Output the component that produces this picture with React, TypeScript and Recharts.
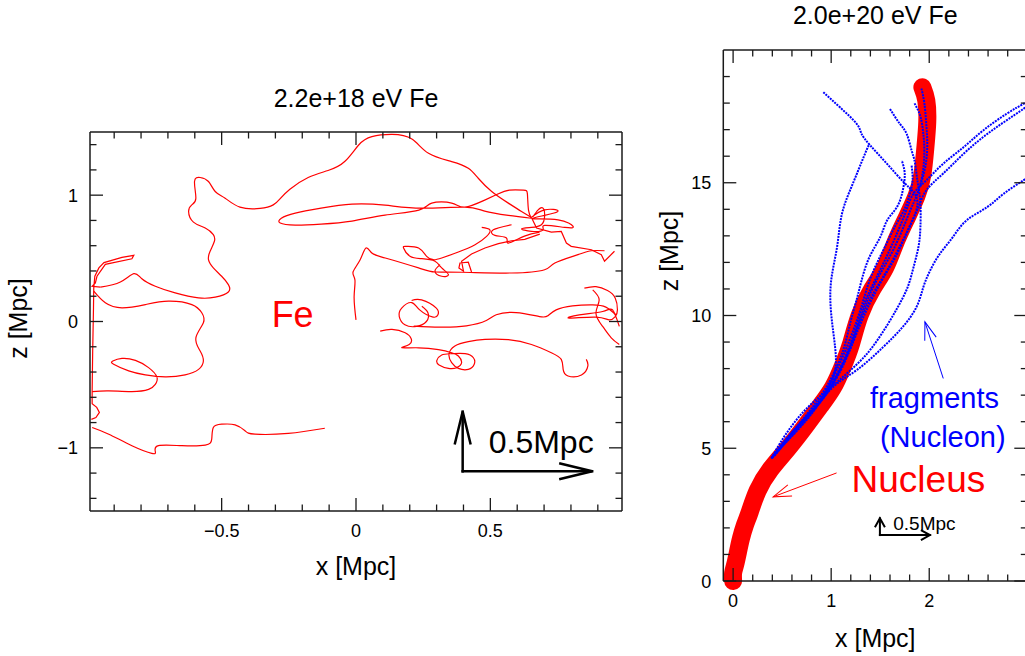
import { LineChart, Line, XAxis, YAxis, ReferenceDot } from 'recharts'

const FONT = '"Liberation Sans", Arial, Helvetica, sans-serif'
const RED = '#ff0000'
const BLUE = '#0000ff'
const INK = '#1a1a1a'

// ---- left panel: 2.2e+18 eV Fe ----
const leftXDomain = [-0.99, 0.99]
const leftZDomain = [-1.5, 1.5]
const leftXTicks = [-0.9, -0.8, -0.7, -0.6, -0.5, -0.4, -0.3, -0.2, -0.1, 0, 0.1, 0.2, 0.3, 0.4, 0.5, 0.6, 0.7, 0.8, 0.9]
const leftXMajor = [-0.5, 0, 0.5]
const leftXLabels = ['−0.5', '0', '0.5']
const leftZTicks = [-1.4, -1.2, -1, -0.8, -0.6, -0.4, -0.2, 0, 0.2, 0.4, 0.6, 0.8, 1, 1.2, 1.4]
const leftZMajor = [-1, 0, 1]
const leftZLabels = ['−1', '0', '1']

// trajectory pieces of the 2.2e18 eV nucleus, [x, z] in Mpc
const feEdge = [[-0.985, -0.775], [-0.968, -0.76], [-0.955, -0.72], [-0.965, -0.68], [-0.982, -0.65], [-0.982, -0.549], [-0.98, -0.234], [-0.977, 0.108], [-0.976, 0.266], [-0.972, 0.358], [-0.957, 0.424], [-0.938, 0.466], [-0.871, 0.508], [-0.827, 0.524], [-0.834, 0.497], [-0.933, 0.452], [-0.964, 0.358], [-0.97, 0.305], [-0.982, 0.279], [-0.951, 0.272]]
const feArc = [[-0.951, 0.272], [-0.877, 0.313], [-0.827, 0.379], [-0.797, 0.339], [-0.747, 0.279], [-0.673, 0.226], [-0.586, 0.187], [-0.524, 0.193], [-0.475, 0.234], [-0.475, 0.292], [-0.5, 0.358], [-0.531, 0.424], [-0.549, 0.489], [-0.543, 0.556], [-0.527, 0.635], [-0.531, 0.687], [-0.561, 0.74], [-0.605, 0.787], [-0.623, 0.871], [-0.611, 0.923], [-0.596, 0.976], [-0.601, 1.108], [-0.58, 1.14], [-0.549, 1.108], [-0.524, 1.029], [-0.487, 0.976], [-0.432, 0.905], [-0.357, 0.895], [-0.308, 0.923], [-0.283, 0.971], [-0.246, 1.047], [-0.178, 1.14], [-0.104, 1.195], [-0.042, 1.266], [0.01, 1.397], [0.059, 1.463], [0.134, 1.481], [0.208, 1.444], [0.27, 1.331], [0.356, 1.266], [0.418, 1.213], [0.455, 1.134], [0.505, 1.029], [0.567, 0.937], [0.616, 0.871], [0.653, 0.824]]
const feLoop = [[0.653, 0.817], [0.567, 0.84], [0.479, 0.874], [0.405, 0.905], [0.245, 0.897], [0.108, 0.921], [-0.015, 0.929], [-0.13, 0.897], [-0.226, 0.858], [-0.278, 0.818], [-0.282, 0.779], [-0.226, 0.763], [-0.13, 0.771], [-0.015, 0.795], [0.108, 0.842], [0.234, 0.882], [0.282, 0.937], [0.356, 0.937], [0.405, 0.905], [0.479, 0.961], [0.527, 1.008], [0.571, 1.04], [0.623, 1.04], [0.638, 1.008], [0.642, 0.882], [0.653, 0.817]]
const feMid = [[0.0, 0.013], [-0.007, 0.195], [-0.004, 0.329], [-0.011, 0.392], [0.015, 0.487], [0.037, 0.582], [0.059, 0.542], [0.109, 0.503], [0.233, 0.424], [0.294, 0.392], [0.393, 0.39], [0.579, 0.384], [0.702, 0.41], [0.74, 0.463], [0.826, 0.529], [0.876, 0.56], [0.925, 0.56]]
const feJag = [[0.653, 0.824], [0.672, 0.74], [0.727, 0.708], [0.764, 0.713], [0.783, 0.621], [0.801, 0.595], [0.876, 0.568], [0.913, 0.529], [0.925, 0.477], [0.962, 0.556]]
const feKnot = [[0.653, 0.824], [0.702, 0.884], [0.752, 0.876], [0.702, 0.84], [0.659, 0.813], [0.752, 0.805], [0.808, 0.753], [0.777, 0.745], [0.702, 0.761], [0.696, 0.726], [0.653, 0.714], [0.616, 0.734], [0.653, 0.745], [0.69, 0.766], [0.702, 0.832], [0.696, 0.897], [0.678, 0.884], [0.659, 0.83]]
const feKnot2 = [[0.579, 0.766], [0.511, 0.726], [0.517, 0.682], [0.56, 0.661], [0.567, 0.621], [0.627, 0.676], [0.683, 0.708]]
const feCurl = [[0.468, 0.745], [0.498, 0.726], [0.486, 0.674], [0.443, 0.608], [0.381, 0.55], [0.319, 0.503], [0.288, 0.489], [0.263, 0.516], [0.233, 0.582], [0.189, 0.595], [0.177, 0.582], [0.201, 0.516], [0.245, 0.497], [0.294, 0.477], [0.319, 0.424], [0.344, 0.371], [0.319, 0.358], [0.294, 0.398], [0.313, 0.45]]
const feBox = [[0.43, 0.392], [0.418, 0.469], [0.387, 0.463], [0.383, 0.424], [0.4, 0.398], [0.393, 0.477], [0.43, 0.534], [0.48, 0.582], [0.53, 0.616], [0.579, 0.639], [0.628, 0.65], [0.684, 0.692]]
const feLeft = [[-0.976, 0.24], [-0.933, 0.148], [-0.871, 0.108], [-0.784, 0.134], [-0.698, 0.161], [-0.611, 0.134], [-0.574, 0.069], [-0.568, -0.01], [-0.596, -0.129], [-0.58, -0.234], [-0.568, -0.313], [-0.586, -0.379], [-0.636, -0.423], [-0.71, -0.439], [-0.784, -0.423], [-0.846, -0.391], [-0.902, -0.339], [-0.905, -0.313], [-0.871, -0.292], [-0.821, -0.308], [-0.772, -0.365], [-0.741, -0.439], [-0.747, -0.497], [-0.772, -0.537], [-0.834, -0.555], [-0.92, -0.549], [-0.982, -0.555]]
const feLow = [[-0.982, -0.839], [-0.92, -0.892], [-0.834, -0.983], [-0.76, -1.044], [-0.747, -1.028], [-0.735, -0.983], [-0.648, -0.983], [-0.561, -0.979], [-0.537, -0.931], [-0.531, -0.839], [-0.5, -0.813], [-0.45, -0.818], [-0.413, -0.865], [-0.376, -0.892], [-0.252, -0.886], [-0.116, -0.845]]
const feRing = [[0.09, -0.076], [0.134, -0.063], [0.183, -0.089], [0.205, -0.134], [0.198, -0.182], [0.171, -0.208], [0.233, -0.208], [0.307, -0.223], [0.356, -0.247], [0.381, -0.273], [0.393, -0.326], [0.375, -0.365], [0.344, -0.371], [0.309, -0.344], [0.301, -0.308], [0.319, -0.265], [0.356, -0.255], [0.406, -0.255], [0.437, -0.287], [0.44, -0.339], [0.418, -0.379], [0.381, -0.371], [0.356, -0.326], [0.346, -0.26], [0.368, -0.194], [0.418, -0.16], [0.48, -0.142], [0.567, -0.144], [0.653, -0.182], [0.727, -0.247], [0.764, -0.3], [0.771, -0.379], [0.789, -0.431], [0.839, -0.423], [0.863, -0.352], [0.857, -0.3]]
const feOval = [[0.207, 0.166], [0.244, 0.171], [0.299, 0.106], [0.305, 0.053], [0.287, 0.035], [0.237, 0.092], [0.207, 0.15], [0.17, 0.106], [0.161, 0.039], [0.182, -0.026], [0.225, -0.039], [0.262, 0.0], [0.268, 0.068], [0.245, 0.12]]
const feWave = [[0.215, -0.036], [0.312, -0.044], [0.411, -0.034], [0.485, 0.008], [0.522, 0.053], [0.596, 0.071], [0.683, 0.039], [0.714, 0.045], [0.745, 0.092], [0.806, 0.124], [0.881, 0.132], [0.93, 0.114], [0.967, 0.053]]
const feRimA = [[0.85, 0.264], [0.893, 0.276], [0.936, 0.245], [0.965, 0.185], [0.973, 0.092], [0.965, 0.039], [0.942, 0.013], [0.893, 0.035], [0.794, 0.027], [0.831, 0.053], [0.918, 0.079], [0.955, 0.092], [0.98, -0.039]]
const feRimB = [[0.881, 0.25], [0.905, 0.171], [0.893, 0.066], [0.918, -0.039], [0.95, -0.129], [0.98, -0.182]]
const scaleBarUp = [[0.397, -1.186], [0.397, -0.713]]
const scaleBarRight = [[0.397, -1.186], [0.879, -1.186]]

// ---- right panel: 2.0e+20 eV Fe ----
const rightXDomain = [-0.1, 3.0]
const rightZDomain = [0, 20]
const rightXTicks = [0, 0.2, 0.4, 0.6, 0.8, 1, 1.2, 1.4, 1.6, 1.8, 2, 2.2, 2.4, 2.6, 2.8, 3]
const rightXMajor = [0, 1, 2, 3]
const rightXLabels = ['0', '1', '2', '']
const rightZTicks = [0, 1, 2, 3, 4, 5, 6, 7, 8, 9, 10, 11, 12, 13, 14, 15, 16, 17, 18, 19]
const rightZMajor = [0, 5, 10, 15]
const rightZLabels = ['0', '5', '10', '15']

const nucleus = [[0, 0], [0.0, 0.3], [0.02, 0.6], [0.05, 1.1], [0.08, 1.6], [0.12, 2.1], [0.17, 2.6], [0.25, 3.4], [0.38, 4.2], [0.56, 5.0], [0.74, 5.85], [0.89, 6.6], [1.02, 7.3], [1.12, 8.1], [1.2, 8.9], [1.29, 10.0], [1.42, 11.0], [1.55, 11.8], [1.65, 12.7], [1.76, 13.6], [1.87, 14.5], [1.93, 15.3], [1.96, 16.3], [1.98, 17.3], [1.97, 18.1], [1.93, 18.6]]
const fragA = [[0.39, 4.62], [0.53, 5.3], [0.68, 5.95], [0.82, 6.6], [0.95, 7.3], [1.06, 8.1], [1.14, 8.9], [1.2, 9.8], [1.26, 10.6], [1.31, 11.32], [1.39, 12.2], [1.5, 12.95], [1.57, 13.58], [1.67, 14.08], [1.73, 14.71], [1.75, 15.34], [1.72, 15.84]]
const fragB = [[0.4, 4.64], [0.55, 5.28], [0.7, 5.92], [0.85, 6.6], [0.98, 7.4], [1.1, 8.3], [1.19, 9.1], [1.27, 9.9], [1.33, 10.6], [1.39, 11.3], [1.47, 12.0], [1.57, 12.75], [1.65, 13.35], [1.74, 13.95], [1.8, 14.55], [1.83, 15.1], [1.82, 15.65]]
const fragC = [[0.39, 4.62], [0.54, 5.22], [0.7, 5.85], [0.86, 6.6], [0.97, 7.3], [1.04, 7.94], [1.04, 8.81], [1.0, 10.07], [1.0, 11.32], [1.06, 12.58], [1.11, 13.83], [1.22, 14.96], [1.33, 15.96], [1.39, 16.47]]
const fragD = [[0.92, 18.41], [1.09, 17.84], [1.26, 17.22], [1.31, 16.84], [1.4, 16.4], [1.57, 15.71], [1.74, 15.02], [1.84, 14.65], [1.88, 14.2], [1.82, 13.5], [1.7, 12.6], [1.57, 11.7], [1.44, 10.9], [1.32, 10.0], [1.22, 9.0], [1.12, 8.1], [1.0, 7.3], [0.86, 6.6], [0.7, 5.9], [0.55, 5.3], [0.4, 4.66]]
const fragE = [[1.6, 17.78], [1.7, 17.22], [1.77, 16.84], [1.82, 16.22], [1.85, 15.84], [1.87, 15.34], [1.89, 14.83], [1.91, 14.21], [1.91, 13.33], [1.89, 12.58], [1.84, 11.82], [1.78, 11.07], [1.68, 10.32], [1.56, 9.57], [1.42, 8.81], [1.27, 8.19], [1.08, 7.56], [0.92, 7.06], [0.75, 6.5], [0.6, 5.85], [0.48, 5.2], [0.39, 4.62]]
const fragF = [[3.0, 18.05], [2.96, 17.97], [2.79, 17.6], [2.55, 16.97], [2.35, 16.34], [2.14, 15.71], [1.97, 15.09], [1.84, 14.59], [1.76, 13.9], [1.66, 13.0], [1.55, 12.1], [1.43, 11.2], [1.32, 10.3], [1.24, 9.4], [1.15, 8.5], [1.03, 7.6], [0.88, 6.8], [0.72, 6.1], [0.56, 5.4], [0.42, 4.7]]
const fragG = [[3.0, 17.9], [2.96, 17.78], [2.76, 17.28], [2.55, 16.72], [2.35, 16.09], [2.14, 15.34], [1.97, 14.71], [1.88, 14.0], [1.78, 13.2], [1.67, 12.3], [1.53, 11.4], [1.4, 10.5], [1.29, 9.6], [1.19, 8.7], [1.08, 7.9], [0.95, 7.1], [0.8, 6.4], [0.64, 5.75], [0.5, 5.1], [0.39, 4.62]]
const fragH = [[3.0, 15.2], [2.96, 15.09], [2.76, 14.59], [2.59, 14.08], [2.38, 13.58], [2.24, 12.95], [2.11, 12.33], [2.01, 11.7], [1.94, 11.07], [1.87, 10.32], [1.73, 9.57], [1.53, 8.81], [1.26, 7.94], [1.02, 7.31], [0.82, 6.43], [0.66, 5.8], [0.52, 5.2], [0.39, 4.62]]
const fragI = [[1.85, 17.99], [1.91, 17.5], [1.94, 16.84], [1.95, 16.1], [1.93, 15.3], [1.88, 14.6], [1.8, 13.9], [1.7, 13.0], [1.58, 12.1], [1.46, 11.3], [1.35, 10.4], [1.26, 9.5], [1.17, 8.6], [1.07, 7.8], [0.94, 7.0], [0.78, 6.3], [0.62, 5.65], [0.48, 5.05], [0.39, 4.62]]
const fragJ = [[1.92, 18.55], [1.95, 18.0], [1.97, 17.2], [1.98, 16.4], [1.96, 15.6], [1.91, 14.9]]
const nucleusPointer = [[1.055, 4.07], [0.408, 3.17]]
const fragPointer = [[2.143, 7.63], [1.956, 9.76]]
const miniBarUp = [[1.497, 1.73], [1.497, 2.36]]
const miniBarRight = [[1.497, 1.73], [2.007, 1.73]]

type Side = 'bottom' | 'top' | 'left' | 'right'

function frameTick(side: Side, majors: number[], labels: string[]) {
  return (p: any) => {
    const v = Number(p.payload?.value)
    const k = majors.findIndex(m => Math.abs(m - v) < 1e-6)
    const len = k >= 0 ? 13 : 6.5
    const { x, y } = p
    let x2 = x, y2 = y, tx = x, ty = y, anchor = 'middle'
    if (side === 'bottom') { y2 = y - len; ty = y + 26 }
    else if (side === 'top') { y2 = y + len }
    else if (side === 'left') { x2 = x + len; tx = x - 12; ty = y + 6.5; anchor = 'end' }
    else { x2 = x - len }
    const lab = k >= 0 && (side === 'bottom' || side === 'left') ? labels[k] : ''
    return (
      <g>
        <line x1={x} y1={y} x2={x2} y2={y2} stroke={INK} strokeWidth={1.3} />
        {lab ? <text x={tx} y={ty} textAnchor={anchor} fontSize={18} fontFamily={FONT} fill="#000">{lab}</text> : null}
      </g>
    )
  }
}

const hTitle = (text: string, dy: number) => (p: any) => {
  const vb = p.viewBox || { x: 0, y: 0, width: 0 }
  return <text x={vb.x + vb.width / 2} y={vb.y + dy} textAnchor="middle" fontSize={25} fontFamily={FONT} fill="#000">{text}</text>
}

const vTitle = (text: string, dx: number, dy: number) => (p: any) => {
  const vb = p.viewBox || { x: 0, y: 0, height: 0 }
  const cx = vb.x + dx
  const cy = vb.y + vb.height / 2 + dy
  return <text transform={`translate(${cx},${cy}) rotate(-90)`} textAnchor="middle" fontSize={25} fontFamily={FONT} fill="#000">{text}</text>
}

const toRows = (a: number[][]) => a.map(([x, z]) => ({ x, z }))

function trail(key: string, pts: number[][], props: Record<string, any>, onFrame = false) {
  return (
    <Line key={key} data={toRows(pts)} dataKey="z" xAxisId={onFrame ? 't' : 'b'} yAxisId={onFrame ? 'r' : 'l'}
      dot={false} activeDot={false} isAnimationActive={false} legendType="none" {...props} />
  )
}

function note(key: string, x: number, z: number, text: string, size: number, color: string) {
  return (
    <ReferenceDot key={key} x={x} y={z} xAxisId="b" yAxisId="l" r={0} ifOverflow="visible"
      shape={(p: any) => <text x={p.cx} y={p.cy} fontSize={size} fill={color} fontFamily={FONT}>{text}</text>} />
  )
}

// axes are 1px thick boxes so that they still render; the frame sits on the plot edge
function frameAxes(xd: number[], zd: number[], xt: number[], zt: number[], xm: number[], xl: string[], zm: number[], zl: string[], clip: boolean, title: string, titleDy: number, xTitleDy: number, zTitleDx: number, zTitleDy: number) {
  const line = { stroke: INK, strokeWidth: 1.5 }
  return [
    <XAxis key="xb" xAxisId="b" type="number" dataKey="x" domain={xd} allowDataOverflow={clip} ticks={xt} interval={0}
      tickLine={false} tickSize={0} tickMargin={0} tick={frameTick('bottom', xm, xl)} axisLine={line} height={1}
      label={hTitle('x [Mpc]', xTitleDy)} />,
    <XAxis key="xt" xAxisId="t" orientation="top" type="number" dataKey="x" domain={xd} allowDataOverflow={clip} ticks={xt} interval={0}
      tickLine={false} tickSize={0} tickMargin={0} tick={frameTick('top', xm, xl)} axisLine={line} height={1}
      label={hTitle(title, titleDy)} />,
    <YAxis key="yl" yAxisId="l" type="number" domain={zd} allowDataOverflow={clip} ticks={zt} interval={0}
      tickLine={false} tickSize={0} tickMargin={0} tick={frameTick('left', zm, zl)} axisLine={line} width={1}
      label={vTitle('z [Mpc]', zTitleDx, zTitleDy)} />,
    <YAxis key="yr" yAxisId="r" orientation="right" type="number" domain={zd} allowDataOverflow={clip} ticks={zt} interval={0}
      tickLine={false} tickSize={0} tickMargin={0} tick={frameTick('right', zm, zl)} axisLine={line} width={1} />,
  ]
}

function LowEnergyPanel() {
  const red = { type: 'natural', stroke: RED, strokeWidth: 1.2 }
  const redLin = { type: 'linear', stroke: RED, strokeWidth: 1.2 }
  const bar = { type: 'linear', stroke: '#000', strokeWidth: 2.5, strokeLinecap: 'square', markerEnd: 'url(#headBig)' }
  return (
    <LineChart width={640} height={656} margin={{ top: 131, right: 17, bottom: 144, left: 89 }}>
      {frameAxes(leftXDomain, leftZDomain, leftXTicks, leftZTicks, leftXMajor, leftXLabels, leftZMajor, leftZLabels, true,
        '2.2e+18 eV Fe', -24.5, 64, -62, -3)}
      {trail('edge', feEdge, redLin)}
      {trail('arc', feArc, red)}
      {trail('loop', feLoop, red)}
      {trail('mid', feMid, red)}
      {trail('jag', feJag, redLin)}
      {trail('knot', feKnot, red)}
      {trail('knot2', feKnot2, red)}
      {trail('curl', feCurl, red)}
      {trail('box', feBox, redLin)}
      {trail('left', feLeft, red)}
      {trail('low', feLow, red)}
      {trail('ring', feRing, red)}
      {trail('oval', feOval, red)}
      {trail('wave', feWave, red)}
      {trail('rimA', feRimA, red)}
      {trail('rimB', feRimB, red)}
      {trail('barUp', scaleBarUp, bar, true)}
      {trail('barRight', scaleBarRight, bar, true)}
      {note('fe', -0.314, -0.041, 'Fe', 36, RED)}
      {note('scale', 0.494, -1.041, '0.5Mpc', 32, '#000')}
    </LineChart>
  )
}

function HighEnergyPanel() {
  const frag = { type: 'natural', stroke: BLUE, strokeWidth: 2, strokeDasharray: '2 1' }
  return (
    <LineChart width={390} height={656} margin={{ top: 49, right: 1.7, bottom: 74, left: 82.3 }}>
      {frameAxes(rightXDomain, rightZDomain, rightXTicks, rightZTicks, rightXMajor, rightXLabels, rightZMajor, rightZLabels, false,
        '2.0e+20 eV Fe', -25, 65.5, -44, -64.5)}
      {trail('nucleus', nucleus, { type: 'natural', stroke: RED, strokeWidth: 18, strokeLinecap: 'round', strokeLinejoin: 'round' })}
      {trail('fA', fragA, frag)}
      {trail('fB', fragB, frag)}
      {trail('fC', fragC, frag)}
      {trail('fD', fragD, frag)}
      {trail('fE', fragE, frag)}
      {trail('fF', fragF, frag)}
      {trail('fG', fragG, frag)}
      {trail('fH', fragH, frag)}
      {trail('fI', fragI, frag)}
      {trail('fJ', fragJ, frag)}
      {trail('pN', nucleusPointer, { type: 'linear', stroke: RED, strokeWidth: 1, markerEnd: 'url(#headRed)' }, true)}
      {trail('pF', fragPointer, { type: 'linear', stroke: BLUE, strokeWidth: 1, markerEnd: 'url(#headBlue)' }, true)}
      {trail('mUp', miniBarUp, { type: 'linear', stroke: '#000', strokeWidth: 2, strokeLinecap: 'square', markerEnd: 'url(#headSmall)' }, true)}
      {trail('mRight', miniBarRight, { type: 'linear', stroke: '#000', strokeWidth: 2, strokeLinecap: 'square', markerEnd: 'url(#headSmall)' }, true)}
      {note('frag1', 1.396, 6.51, 'fragments', 29, BLUE)}
      {note('frag2', 1.497, 5.05, '(Nucleon)', 29, BLUE)}
      {note('nuc', 1.208, 3.36, 'Nucleus', 37, RED)}
      {note('mini', 1.633, 1.92, '0.5Mpc', 19, '#000')}
    </LineChart>
  )
}

export default function App() {
  return (
    <div style={{ position: 'absolute', left: 0, top: 0, width: 1025, height: 656, overflow: 'hidden', background: '#fff', fontFamily: FONT }}>
      <svg width={0} height={0} style={{ position: 'absolute' }}>
        <defs>
          <marker id="headBig" viewBox="0 0 38 20" markerUnits="userSpaceOnUse" markerWidth={38} markerHeight={20} refX={34} refY={10} orient="auto">
            <path d="M1,2 L34,10 L1,18" fill="none" stroke="#000" strokeWidth={2.5} />
          </marker>
          <marker id="headSmall" viewBox="0 0 12 12" markerUnits="userSpaceOnUse" markerWidth={12} markerHeight={12} refX={10} refY={6} orient="auto">
            <path d="M1,1 L10,6 L1,11" fill="none" stroke="#000" strokeWidth={2} />
          </marker>
          <marker id="headRed" viewBox="0 0 21 14" markerUnits="userSpaceOnUse" markerWidth={21} markerHeight={14} refX={19} refY={7} orient="auto">
            <path d="M1,1 L19,7 L1,13" fill="none" stroke={RED} strokeWidth={1} />
          </marker>
          <marker id="headBlue" viewBox="0 0 21 14" markerUnits="userSpaceOnUse" markerWidth={21} markerHeight={14} refX={19} refY={7} orient="auto">
            <path d="M1,1 L19,7 L1,13" fill="none" stroke={BLUE} strokeWidth={1} />
          </marker>
        </defs>
      </svg>
      <div style={{ position: 'absolute', left: 0, top: 0 }}>
        <LowEnergyPanel />
      </div>
      <div style={{ position: 'absolute', left: 640, top: 0 }}>
        <HighEnergyPanel />
      </div>
    </div>
  )
}
